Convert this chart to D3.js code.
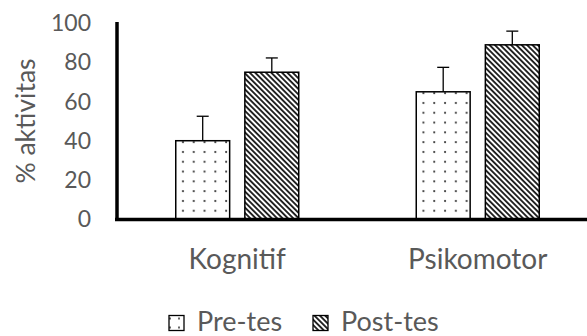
<!DOCTYPE html>
<html><head><meta charset="utf-8">
<script src="https://cdn.jsdelivr.net/npm/d3@7"></script>
<style>body{margin:0;background:#fff}svg{display:block}</style>
</head><body>
<script>
const categories = ["Kognitif", "Psikomotor"];
const seriesNames = ["Pre-tes", "Post-tes"];
const preValues = [40, 65];
const postValues = [75, 89];
const preErrors = [12.5, 12.5];
const postErrors = [7.3, 7];
const yTicks = [0, 20, 40, 60, 80, 100];

const W = 587, H = 336;
const font = "Lato, 'Open Sans', sans-serif";
const svg = d3.select("body").append("svg").attr("width", W).attr("height", H);

const defs = svg.append("defs");
const dots = defs.append("pattern").attr("id", "dots").attr("patternUnits", "userSpaceOnUse")
  .attr("width", 10.8).attr("height", 9.8).attr("x", 175).attr("y", 0);
dots.append("rect").attr("width", 10.8).attr("height", 9.8).attr("fill", "#fff");
dots.append("circle").attr("cx", 5).attr("cy", 5).attr("r", 1.1).attr("fill", "#333");

const hatch = defs.append("pattern").attr("id", "hatch").attr("patternUnits", "userSpaceOnUse")
  .attr("width", 3.8).attr("height", 3.8).attr("patternTransform", "rotate(-45)");
hatch.append("rect").attr("width", 3.8).attr("height", 3.8).attr("fill", "#fff");
hatch.append("rect").attr("x", 0).attr("width", 1.9).attr("height", 3.8).attr("fill", "#222");

const dotsL = defs.append("pattern").attr("id", "dotsL").attr("patternUnits", "userSpaceOnUse")
  .attr("width", 9).attr("height", 9).attr("x", 169).attr("y", 315);
dotsL.append("rect").attr("width", 9).attr("height", 9).attr("fill", "#fff");
dotsL.append("circle").attr("cx", 3).attr("cy", 3).attr("r", 1).attr("fill", "#333");

const y = d3.scaleLinear().domain([0, 100]).range([219, 23.3]);
const x0 = d3.scaleBand().domain(categories).range([117, 598]).paddingInner(0).paddingOuter(0);
const x1 = d3.scaleBand().domain(seriesNames).range([0, 123]).paddingInner(0.22).paddingOuter(0);
const groupOffset = (x0.bandwidth() - 123) / 2;

// y tick labels
const ya = svg.append("g");
ya.selectAll("text").data(yTicks).enter().append("text")
  .attr("x", 91).attr("y", d => y(d)).attr("dy", "0.35em")
  .attr("text-anchor", "end").attr("font-family", font).attr("font-size", 23)
  .attr("fill", "#595959").text(d => d);

// y title
svg.append("text").attr("transform", "translate(26,121) rotate(-90)")
  .attr("text-anchor", "middle").attr("dy", "0.35em")
  .attr("font-family", font).attr("font-size", 26.5).attr("fill", "#595959").text("% aktivitas");

const data = categories.map((c, i) => ({
  cat: c,
  vals: [
    {s: "Pre-tes", v: preValues[i], e: preErrors[i], fill: "url(#dots)"},
    {s: "Post-tes", v: postValues[i], e: postErrors[i], fill: "url(#hatch)"}
  ]
}));

const groups = svg.selectAll("g.grp").data(data).enter().append("g")
  .attr("class", "grp").attr("transform", d => `translate(${x0(d.cat) + groupOffset},0)`);

const bars = groups.selectAll("g.bar").data(d => d.vals).enter().append("g").attr("class", "bar");
bars.append("rect")
  .attr("x", d => x1(d.s)).attr("y", d => y(d.v))
  .attr("width", x1.bandwidth()).attr("height", d => y(0) - y(d.v))
  .attr("fill", d => d.fill).attr("stroke", "#000").attr("stroke-width", 1.5);
bars.append("line")
  .attr("x1", d => x1(d.s) + x1.bandwidth() / 2).attr("x2", d => x1(d.s) + x1.bandwidth() / 2)
  .attr("y1", d => y(d.v)).attr("y2", d => y(d.v + d.e))
  .attr("stroke", "#000").attr("stroke-width", 1.3);
bars.append("line")
  .attr("x1", d => x1(d.s) + x1.bandwidth() / 2 - 6).attr("x2", d => x1(d.s) + x1.bandwidth() / 2 + 6)
  .attr("y1", d => y(d.v + d.e)).attr("y2", d => y(d.v + d.e))
  .attr("stroke", "#000").attr("stroke-width", 1.3);

// axes lines
svg.append("line").attr("x1", 117).attr("x2", 117).attr("y1", 22).attr("y2", 221)
  .attr("stroke", "#000").attr("stroke-width", 3.5);
svg.append("line").attr("x1", 115).attr("x2", 598).attr("y1", 219.5).attr("y2", 219.5)
  .attr("stroke", "#000").attr("stroke-width", 3.5);

// category labels
svg.selectAll("text.cat").data(categories).enter().append("text").attr("class", "cat")
  .attr("x", d => x0(d) + x0.bandwidth() / 2).attr("y", 259.5).attr("dy", "0.35em")
  .attr("text-anchor", "middle").attr("font-family", font).attr("font-size", 28)
  .attr("fill", "#595959").text(d => d);

// legend
const legX = [169, 313];
const leg = svg.selectAll("g.leg").data(seriesNames).enter().append("g").attr("class", "leg")
  .attr("transform", (d, i) => `translate(${legX[i]},315.5)`);
leg.append("rect").attr("width", 15).attr("height", 15)
  .attr("fill", (d, i) => i === 0 ? "url(#dotsL)" : "url(#hatch)")
  .attr("stroke", "#000").attr("stroke-width", 1.3);
leg.append("text").attr("x", 28).attr("y", 6.5).attr("dy", "0.35em")
  .attr("font-family", font).attr("font-size", 27).attr("fill", "#595959").text(d => d);
</script>
</body></html>
